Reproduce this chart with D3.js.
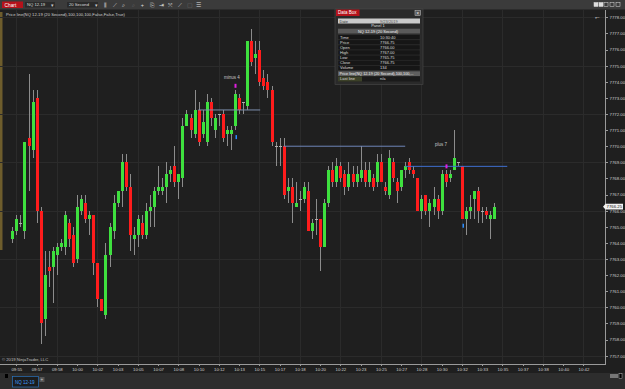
<!DOCTYPE html>
<html>
<head>
<meta charset="utf-8">
<script src="https://cdn.jsdelivr.net/npm/d3@7"></script>
<style>
  body { margin: 0; background: #1f1f1f; overflow: hidden; }
  text { font-family: "Liberation Sans", Arial, sans-serif; }
</style>
</head>
<body>
<svg id="chart" width="625" height="389"></svg>
<script>
// 20 second bars, NQ 12-19
const opens = [
  7764.25, 7764.75, 7765.25, 7764.75, 7770.5, 7769.75, 7773.0, 7766.0, 7759.25, 7762.5,
  7762.5, 7763.25, 7763.75, 7763.75, 7765.25, 7764.5, 7763.0, 7766.0, 7766.5, 7765.5,
  7765.75, 7762.75, 7760.5, 7759.5, 7763.25, 7764.75, 7766.5, 7767.25, 7769.0, 7767.5,
  7764.25, 7764.5, 7765.25, 7764.5, 7766.0, 7766.25, 7767.25, 7767.25, 7767.5, 7768.25,
  7768.75, 7767.75, 7768.0, 7771.25, 7771.75, 7770.75, 7772.25, 7770.75, 7770.25, 7772.75,
  7771.0, 7772.0, 7772.0, 7770.75, 7770.75, 7771.25, 7773.0, 7772.75, 7772.5, 7776.5,
  7775.5, 7776.0, 7774.25, 7774.0, 7773.5, 7770.0, 7770.0, 7770.0, 7767.25, 7767.5,
  7766.25, 7766.75, 7766.75, 7767.25, 7764.75, 7765.5, 7765.5, 7763.75, 7766.5, 7768.5,
  7767.75, 7768.75, 7768.25, 7767.5, 7768.25, 7767.75, 7768.0, 7768.5, 7767.75, 7768.0,
  7767.75, 7769.0, 7767.5, 7767.0, 7769.0, 7767.75, 7767.5, 7768.5, 7769.0, 7768.5,
  7768.0, 7766.0, 7767.0, 7766.0, 7766.25, 7766.75, 7766.0, 7768.25, 7768.0, 7768.5,
  7769.0, 7768.75, 7765.5, 7766.0, 7766.75, 7767.25, 7766.0, 7766.0, 7765.5, 7765.5
];
const highs = [
  7765.0, 7765.75, 7765.75, 7770.25, 7774.5, 7773.5, 7773.5, 7766.25, 7763.5, 7763.5,
  7763.75, 7764.0, 7764.25, 7766.0, 7765.5, 7765.0, 7767.0, 7767.0, 7767.0, 7766.0,
  7765.75, 7762.75, 7760.5, 7764.0, 7765.25, 7767.0, 7767.25, 7769.5, 7769.5, 7768.25,
  7765.0, 7765.75, 7765.75, 7766.5, 7767.0, 7767.5, 7768.75, 7768.0, 7769.0, 7768.75,
  7770.0, 7768.25, 7771.75, 7772.25, 7772.0, 7773.5, 7772.75, 7772.25, 7773.25, 7773.0,
  7772.0, 7772.0, 7772.25, 7771.25, 7771.25, 7773.5, 7773.25, 7772.75, 7776.5, 7777.25,
  7776.5, 7776.5, 7774.75, 7774.5, 7773.75, 7770.25, 7770.5, 7770.5, 7768.0, 7768.0,
  7767.75, 7767.25, 7767.75, 7767.75, 7765.5, 7766.75, 7765.5, 7766.75, 7768.75, 7769.0,
  7769.25, 7769.0, 7768.5, 7769.0, 7768.75, 7768.75, 7770.0, 7769.0, 7769.0, 7768.25,
  7769.5, 7769.5, 7767.75, 7769.75, 7769.25, 7768.0, 7768.5, 7769.0, 7769.25, 7768.75,
  7768.0, 7767.0, 7767.0, 7766.75, 7767.5, 7767.0, 7768.5, 7768.5, 7768.5, 7771.0,
  7769.0, 7768.75, 7766.25, 7767.0, 7767.25, 7767.5, 7766.25, 7766.25, 7766.0, 7766.5
];
const lows = [
  7764.0, 7764.5, 7765.0, 7764.25, 7767.25, 7769.25, 7765.25, 7757.75, 7758.25, 7761.25,
  7760.25, 7762.0, 7763.5, 7763.25, 7763.75, 7762.5, 7762.75, 7765.75, 7765.25, 7764.5,
  7762.0, 7760.0, 7759.75, 7759.25, 7762.5, 7764.25, 7766.25, 7766.25, 7767.25, 7763.5,
  7763.25, 7763.75, 7764.25, 7764.25, 7765.0, 7765.0, 7767.0, 7767.0, 7766.5, 7767.75,
  7767.5, 7766.75, 7767.5, 7771.25, 7770.5, 7770.5, 7770.0, 7770.5, 7770.0, 7771.25,
  7770.5, 7771.25, 7770.25, 7770.0, 7769.75, 7771.0, 7772.0, 7772.0, 7772.25, 7775.0,
  7774.5, 7773.75, 7773.5, 7773.0, 7770.0, 7768.75, 7768.75, 7766.75, 7766.5, 7765.25,
  7766.25, 7766.0, 7766.5, 7764.75, 7764.25, 7764.5, 7762.25, 7763.75, 7766.25, 7767.5,
  7767.5, 7767.75, 7767.0, 7767.25, 7767.5, 7767.5, 7767.75, 7767.5, 7767.5, 7767.25,
  7767.5, 7767.75, 7767.0, 7766.75, 7767.75, 7766.5, 7767.25, 7768.0, 7768.25, 7768.0,
  7766.0, 7765.5, 7765.75, 7765.0, 7765.75, 7765.5, 7765.75, 7767.5, 7767.75, 7768.5,
  7768.75, 7765.5, 7764.5, 7765.5, 7765.5, 7765.25, 7765.25, 7765.5, 7764.25, 7765.5
];
const closes = [
  7764.75, 7765.5, 7765.25, 7770.25, 7770.0, 7772.75, 7766.0, 7759.0, 7762.0, 7762.25,
  7763.5, 7763.75, 7764.0, 7765.75, 7764.25, 7762.75, 7766.25, 7766.75, 7765.5, 7765.75,
  7762.75, 7760.5, 7759.75, 7763.25, 7765.0, 7766.5, 7767.25, 7769.0, 7767.5, 7764.5,
  7764.5, 7765.5, 7764.5, 7766.0, 7766.25, 7767.25, 7767.5, 7767.5, 7768.25, 7768.5,
  7767.75, 7768.25, 7771.25, 7772.0, 7771.0, 7772.25, 7770.25, 7771.5, 7772.75, 7771.75,
  7771.75, 7772.0, 7770.5, 7771.0, 7771.0, 7773.25, 7772.25, 7772.75, 7776.5, 7775.25,
  7775.75, 7774.0, 7773.75, 7773.5, 7770.25, 7770.0, 7770.0, 7767.0, 7767.5, 7766.5,
  7766.5, 7766.75, 7767.5, 7764.75, 7765.25, 7765.5, 7763.75, 7766.5, 7768.5, 7767.75,
  7768.75, 7768.0, 7767.5, 7768.25, 7767.75, 7768.25, 7768.5, 7767.75, 7768.5, 7767.5,
  7769.0, 7767.75, 7767.25, 7769.25, 7768.0, 7767.25, 7768.5, 7768.75, 7768.5, 7768.25,
  7766.0, 7766.75, 7766.0, 7766.5, 7766.75, 7766.0, 7768.25, 7767.75, 7768.25, 7769.25,
  7769.0, 7765.5, 7766.0, 7766.25, 7767.25, 7766.0, 7766.0, 7765.75, 7765.75, 7766.25
];

// time axis labels, one every 5 bars
const timeLabels = [
  "09:55", "09:57", "09:58", "10:00", "10:02", "10:03", "10:05", "10:07", "10:08", "10:10",
  "10:12", "10:13", "10:15", "10:17", "10:18", "10:20", "10:22", "10:23", "10:25", "10:27",
  "10:28", "10:30", "10:32", "10:33", "10:35", "10:37", "10:38", "10:40", "10:42"
];
const priceLabels = [7757, 7758, 7759, 7760, 7761, 7762, 7763, 7764, 7765, 7766, 7767,
  7768, 7769, 7770, 7771, 7772, 7773, 7774, 7775, 7776, 7777, 7778];

// drawn horizontal lines: price level, first bar, last bar
const lineLevels = [7772.25, 7770.0, 7768.75];
const lineFrom = [45.9, 67.0, 97.0];
const lineTo = [61.2, 97.0, 122.2];
const lineColors = ["#7d8fae", "#6f86b8", "#3f6fd0"];

// signal markers: bar index and kind
const markBars = [55, 107];
const markDownBars = [55, 111];

// data box values
const boxRows = [
  ["Time", "10:30:40"], ["Price", "7766.75"], ["Open", "7766.00"], ["High", "7767.00"],
  ["Low", "7765.75"], ["Close", "7766.75"], ["Volume", "134"]
];

const svg = d3.select("#chart");
const plotRight = 605, plotTop = 10, plotBottom = 364;

const x = d3.scaleLinear().domain([0, 119]).range([12.3, 494.3]);
const y = d3.scaleLinear().domain([7757, 7778]).range([355.7, 17.3]);
const tickIdx = timeLabels.map((d, k) => 1 + 5 * k);

// background pieces
svg.append("rect").attr("width", 625).attr("height", 389).attr("fill", "#1f1f1f");
svg.append("rect").attr("x", 0).attr("y", 0).attr("width", 625).attr("height", 9.5).attr("fill", "#3b3b3b");
svg.append("rect").attr("x", 0).attr("y", 373).attr("width", 625).attr("height", 16).attr("fill", "#2d2d2d");
svg.append("rect").attr("x", 0).attr("y", 12).attr("width", 2.5).attr("height", 238).attr("fill", "#6e5d2c");

// gridlines
const grid = svg.append("g").attr("shape-rendering", "crispEdges");
grid.selectAll(".vg").data(tickIdx.filter((d, k) => k % 2 === 0)).enter().append("line")
  .attr("x1", d => Math.round(x(d)) + 0.5).attr("x2", d => Math.round(x(d)) + 0.5)
  .attr("y1", plotTop).attr("y2", plotBottom).attr("stroke", "#2b2b2b");
grid.selectAll(".hg").data(priceLabels.filter(d => (d - 7757) % 3 === 0)).enter().append("line")
  .attr("x1", 0).attr("x2", plotRight)
  .attr("y1", d => Math.round(y(d)) + 0.5).attr("y2", d => Math.round(y(d)) + 0.5)
  .attr("stroke", "#2b2b2b");

// axes
const yAxis = svg.append("g").attr("transform", `translate(${plotRight},0)`)
  .call(d3.axisRight(y).tickValues(priceLabels).tickFormat(d => d.toFixed(2)).tickSize(3).tickPadding(1.5));
const xAxis = svg.append("g").attr("transform", `translate(0,${plotBottom})`)
  .call(d3.axisBottom(x).tickValues(tickIdx).tickFormat((d, k) => timeLabels[k]).tickSize(2).tickPadding(2));
[yAxis, xAxis].forEach(g => {
  g.select(".domain").remove();
  g.selectAll("line").attr("stroke", "#9a9a9a").attr("shape-rendering", "crispEdges");
  g.selectAll("text").attr("fill", "#cfcfcf").style("font-size", "4.3px");
});
svg.append("path").attr("d", `M0,${plotBottom + 0.5}H${plotRight + 0.5}V${plotTop}`)
  .attr("fill", "none").attr("stroke", "#9a9a9a").attr("shape-rendering", "crispEdges");

// candles
const bars = d3.range(opens.length).map(i => ({ i, o: opens[i], h: highs[i], l: lows[i], c: closes[i] }));
const candles = svg.append("g").attr("shape-rendering", "crispEdges");
candles.selectAll(".wick").data(bars).enter().append("line")
  .attr("x1", d => Math.round(x(d.i)) + 0.5).attr("x2", d => Math.round(x(d.i)) + 0.5)
  .attr("y1", d => y(d.h)).attr("y2", d => y(d.l)).attr("stroke", "#8c8c8c");
candles.selectAll(".body").data(bars.filter(d => d.o !== d.c)).enter().append("rect")
  .attr("x", d => Math.round(x(d.i)) - 1).attr("width", 3)
  .attr("y", d => y(Math.max(d.o, d.c)))
  .attr("height", d => Math.max(1, Math.abs(y(d.o) - y(d.c))))
  .attr("fill", d => d.c > d.o ? "#3ee03e" : "#ff1c1c");
candles.selectAll(".doji").data(bars.filter(d => d.o === d.c)).enter().append("line")
  .attr("x1", d => Math.round(x(d.i)) - 1).attr("x2", d => Math.round(x(d.i)) + 2)
  .attr("y1", d => Math.round(y(d.o)) + 0.5).attr("y2", d => Math.round(y(d.o)) + 0.5)
  .attr("stroke", "#b0b0b0");

// drawn lines and labels
svg.append("g").selectAll("line").data(lineLevels).enter().append("line")
  .attr("x1", (d, k) => x(lineFrom[k])).attr("x2", (d, k) => x(lineTo[k]))
  .attr("y1", d => y(d)).attr("y2", d => y(d))
  .attr("stroke", (d, k) => lineColors[k]).attr("stroke-width", 1);
svg.append("text").attr("x", 224).attr("y", 78.5).text("minus 4")
  .attr("fill", "#c8c8c8").style("font-size", "4.5px");
svg.append("text").attr("x", 435).attr("y", 146).text("plus 7")
  .attr("fill", "#c8c8c8").style("font-size", "4.5px");

// markers
svg.selectAll(".mk").data(markBars).enter().append("rect")
  .attr("x", d => Math.round(x(d)) - 0.5).attr("y", d => y(highs[d]) - 6)
  .attr("width", 2).attr("height", 4).attr("fill", "#e01ee0");
svg.selectAll(".mkd").data(markDownBars).enter().append("rect")
  .attr("x", d => Math.round(x(d)) + 0.5).attr("y", d => y(lows[d]) + 5)
  .attr("width", 1.5).attr("height", 4).attr("fill", "#2a8cff");

// last price tag
const last = closes[closes.length - 1];
const ty = y(last);
svg.append("path").attr("d", `M603,${ty}L605.5,${ty - 2.8}H623V${ty + 2.8}H605.5Z`)
  .attr("fill", "#f2f2f2");
svg.append("text").attr("x", 606.5).attr("y", ty + 1.5).text(last.toFixed(2))
  .attr("fill", "#111").style("font-size", "4.3px");
svg.append("text").attr("x", 594).attr("y", 19).text("←").attr("fill", "#eee").style("font-size", "7px");

// header texts
svg.append("text").attr("x", 6).attr("y", 15.5)
  .text("Price line(NQ 12-19 (20 Second),100,100,100,False,False,True)")
  .attr("fill", "#d0d0d0").style("font-size", "4.2px");
svg.append("text").attr("x", 2).attr("y", 361).text("© 2019 NinjaTrader, LLC")
  .attr("fill", "#c0c0c0").style("font-size", "4.2px");

// toolbar
svg.append("rect").attr("x", 2).attr("y", 1.5).attr("width", 21).attr("height", 6.5).attr("fill", "#b5121b");
svg.append("text").attr("x", 4.5).attr("y", 6.6).text("Chart").attr("fill", "#fff").style("font-size", "4.8px");
svg.append("rect").attr("x", 25).attr("y", 2).attr("width", 30).attr("height", 5.5).attr("fill", "#2a2a2a");
svg.append("text").attr("x", 27).attr("y", 6.3).text("NQ 12-19").attr("fill", "#ddd").style("font-size", "4.2px");
svg.append("rect").attr("x", 67).attr("y", 2).attr("width", 31).attr("height", 5.5).attr("fill", "#2a2a2a");
svg.append("text").attr("x", 69).attr("y", 6.3).text("20 Second").attr("fill", "#ddd").style("font-size", "4.2px");
[51, 95].forEach(px => svg.append("text").attr("x", px).attr("y", 6.5).text("▾").attr("fill", "#ccc").style("font-size", "4.5px"));
["⫼", "⟋", "⌕", "⌕", "+", "⎘", "⇥", "⤧", "⟋", "▢", "☰"].forEach((s, k) => {
  svg.append("text").attr("x", 104 + k * 9.2).attr("y", 7).text(s)
    .attr("fill", k === 3 || k === 9 ? "#666" : "#ddd").style("font-size", "5.5px");
});
[594, 599, 604, 610, 616].forEach((px, k) => {
  svg.append("rect").attr("x", px).attr("y", 2.5).attr("width", 4).attr("height", 4)
    .attr("fill", k < 2 ? "#ddd" : "none").attr("stroke", "#ddd").attr("stroke-width", 0.5);
});

// bottom tab
svg.append("rect").attr("x", 5).attr("y", 374).attr("width", 3).attr("height", 4).attr("fill", "#000");
svg.append("rect").attr("x", 12.5).attr("y", 376.5).attr("width", 26).attr("height", 10.5)
  .attr("fill", "#1c1c1c").attr("stroke", "#2b7fd6").attr("stroke-width", 0.6);
svg.append("text").attr("x", 15).attr("y", 383.5).text("NQ 12-19").attr("fill", "#3c9dff").style("font-size", "4.5px");
svg.append("rect").attr("x", 39.5).attr("y", 377).attr("width", 5).attr("height", 5).attr("fill", "#555");
svg.append("text").attr("x", 40.6).attr("y", 381.4).text("+").attr("fill", "#ccc").style("font-size", "4.5px");
svg.append("rect").attr("x", 610).attr("y", 374).attr("width", 8).attr("height", 4).attr("fill", "#777");
svg.append("rect").attr("x", 619).attr("y", 373.5).attr("width", 3).attr("height", 5).attr("fill", "#000").attr("stroke", "#ddd").attr("stroke-width", 0.4);

// data box window
const box = svg.append("g");
box.append("rect").attr("x", 335).attr("y", 9).attr("width", 88).attr("height", 75.5)
  .attr("fill", "#2a2a2a").attr("stroke", "#4a4a4a").attr("stroke-width", 0.6);
box.append("rect").attr("x", 336).attr("y", 9.5).attr("width", 23.5).attr("height", 6.5).attr("fill", "#b5121b");
box.append("text").attr("x", 338).attr("y", 14.3).text("Data Box").attr("fill", "#fff").style("font-size", "4.5px");
box.append("rect").attr("x", 415).attr("y", 10.5).attr("width", 5.5).attr("height", 5)
  .attr("fill", "#555").attr("stroke", "#ccc").attr("stroke-width", 0.5);
box.append("text").attr("x", 416.2).attr("y", 14.6).text("×").attr("fill", "#eee").style("font-size", "5px");
box.append("rect").attr("x", 338).attr("y", 18.5).attr("width", 82).attr("height", 5).attr("fill", "#cacaca");
box.append("text").attr("x", 339.5).attr("y", 22.5).text("Date").attr("fill", "#333").style("font-size", "4px");
box.append("text").attr("x", 380).attr("y", 22.5).text("9/23/2019").attr("fill", "#555").style("font-size", "4px");
box.append("text").attr("x", 378).attr("y", 27.4).attr("text-anchor", "middle").text("Panel 1").attr("fill", "#ddd").style("font-size", "4px");
box.append("rect").attr("x", 338).attr("y", 28.7).attr("width", 82).attr("height", 4.8).attr("fill", "#5a5a5a");
box.append("text").attr("x", 378).attr("y", 32.5).attr("text-anchor", "middle").text("NQ 12-19 (20 Second)").attr("fill", "#eee").style("font-size", "4px");
boxRows.forEach((r, k) => {
  const ry = 34.8 + k * 5.07;
  box.append("rect").attr("x", 338).attr("y", ry).attr("width", 82).attr("height", 5.07)
    .attr("fill", "#161616").attr("stroke", "#3a3a3a").attr("stroke-width", 0.4);
  box.append("text").attr("x", 340).attr("y", ry + 3.8).text(r[0]).attr("fill", "#ddd").style("font-size", "4px");
  box.append("text").attr("x", 380).attr("y", ry + 3.8).text(r[1]).attr("fill", "#ddd").style("font-size", "4px");
});
box.append("rect").attr("x", 338).attr("y", 71.3).attr("width", 82).attr("height", 4.7).attr("fill", "#5f5f5f");
box.append("text").attr("x", 339.5).attr("y", 74.9).text("Price line(NQ 12-19 (20 Second),100,100,...").attr("fill", "#eee").style("font-size", "3.8px");
box.append("rect").attr("x", 338).attr("y", 76.5).attr("width", 82).attr("height", 5).attr("fill", "#1a1a1a");
box.append("rect").attr("x", 338).attr("y", 76.5).attr("width", 24).attr("height", 5).attr("fill", "#3c4128");
box.append("text").attr("x", 340).attr("y", 80.3).text("Last line").attr("fill", "#ddd").style("font-size", "4px");
box.append("text").attr("x", 380).attr("y", 80.3).text("n/a").attr("fill", "#ddd").style("font-size", "4px");
</script>
</body>
</html>
